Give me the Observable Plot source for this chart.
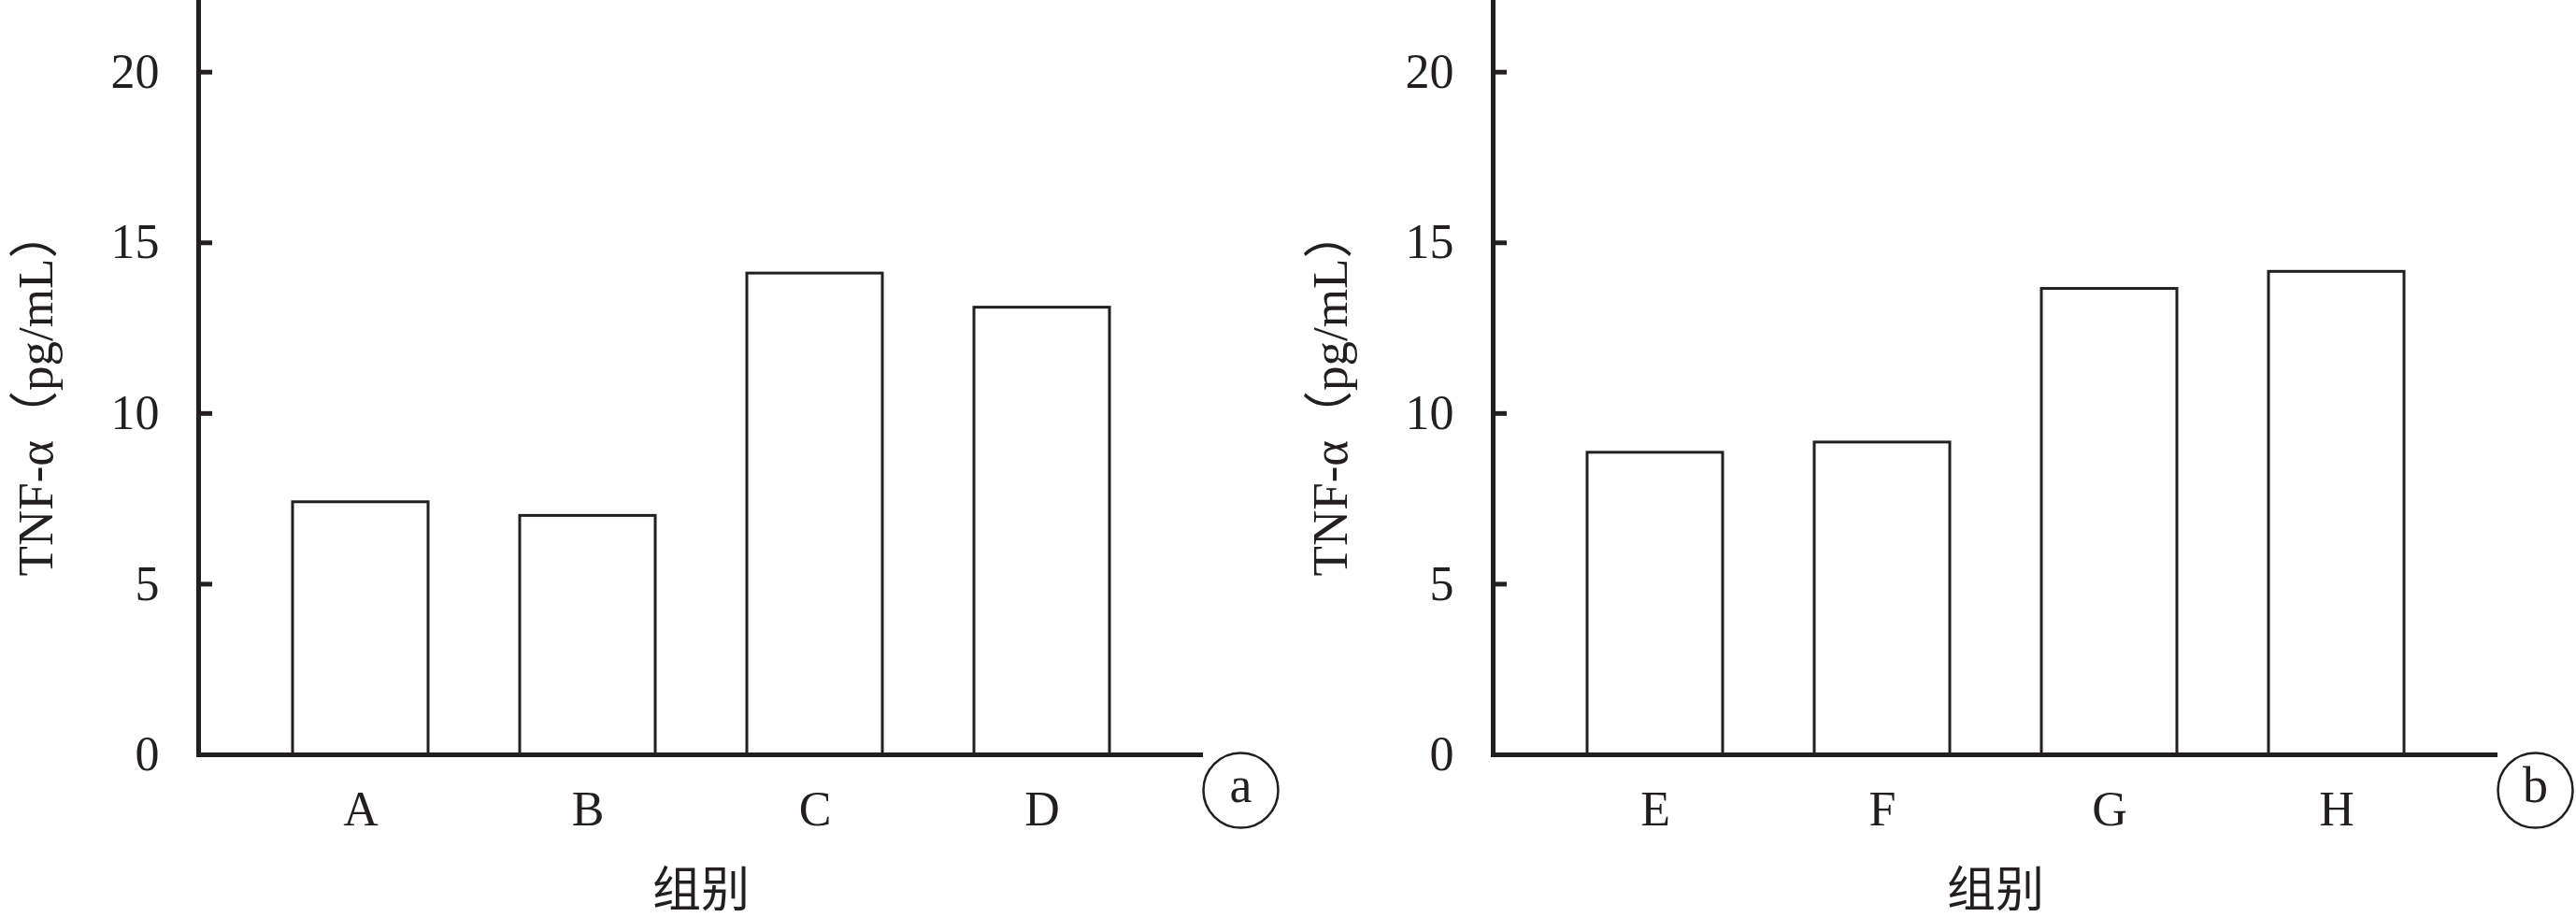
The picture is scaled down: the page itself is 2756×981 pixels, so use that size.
<!DOCTYPE html>
<html>
<head>
<meta charset="utf-8">
<script src="https://cdn.jsdelivr.net/npm/d3@7"></script>
<script src="https://cdn.jsdelivr.net/npm/@observablehq/plot@0.6"></script>
<style>
  html, body { margin: 0; padding: 0; background: #fff; overflow: hidden; }
  #wrap { position: relative; width: 2756px; height: 981px; }
  #pa { position: absolute; left: 0; top: 0; }
  #pb { position: absolute; left: 1385px; top: 0; }
</style>
</head>
<body>
<div id="wrap"><div id="pa"></div><div id="pb"></div></div>
<script>
const groupsA = ["A", "B", "C", "D"];
const valuesA = [7.4, 7.0, 14.1, 13.1];
const groupsB = ["E", "F", "G", "H"];
const valuesB = [8.85, 9.15, 13.65, 14.15];
const yTicks = [0, 5, 10, 15, 20];
const panelLabels = ["a", "b"];
const xTitle = "组别";
const yTitle = "TNF-α（pg/mL）";

const ink = "#231f20";
const serif = "'Liberation Serif', 'Noto Sans CJK SC', serif";

function makePanel(groups, values, tag) {
  const data = groups.map((g, i) => ({group: g, value: values[i]}));
  return Plot.plot({
    width: 1371,
    height: 981,
    marginLeft: 212,
    marginRight: 84,
    marginTop: 0,
    marginBottom: 174,
    style: {fontFamily: serif, fontSize: "52px", color: ink, background: "white", overflow: "visible"},
    x: {domain: groups, paddingInner: 0.404, paddingOuter: 0.411, label: null},
    y: {domain: [0, 22.1], label: null},
    marks: [
      Plot.barY(data, {x: "group", y: "value", fill: "white", stroke: ink, strokeWidth: 3}),
      Plot.axisY({ticks: yTicks, tickSize: 0, tickPadding: 42, label: null}),
      Plot.axisX({tickSize: 0, tickPadding: 39, label: null}),
      Plot.ruleY(yTicks, {y: d => d, stroke: ink, strokeWidth: 5, insetRight: 1060}),
      Plot.ruleY([0], {stroke: ink, strokeWidth: 5}),
      Plot.frame({anchor: "left", stroke: ink, strokeWidth: 5, strokeLinecap: "square"}),
      Plot.text([yTitle], {text: d => d, frameAnchor: "left", rotate: -90, dx: -157, dy: 16,
        textAnchor: "middle", lineAnchor: "bottom", fontSize: 53, fill: ink}),
      Plot.text([xTitle], {text: d => d, frameAnchor: "bottom", dy: 162, lineAnchor: "bottom",
        textAnchor: "middle", fontFamily: "'Noto Sans CJK SC', sans-serif", fontSize: 52, fill: ink}),
      Plot.dot([tag], {frameAnchor: "bottom-right", dx: 40, dy: 38, r: 40, fill: "white", stroke: ink, strokeWidth: 2.5}),
      Plot.text([tag], {text: d => d, frameAnchor: "bottom-right", dx: 40, dy: 33,
        textAnchor: "middle", lineAnchor: "middle", fontSize: 54, fill: ink})
    ]
  });
}

document.getElementById("pa").appendChild(makePanel(groupsA, valuesA, panelLabels[0]));
document.getElementById("pb").appendChild(makePanel(groupsB, valuesB, panelLabels[1]));
</script>
</body>
</html>
